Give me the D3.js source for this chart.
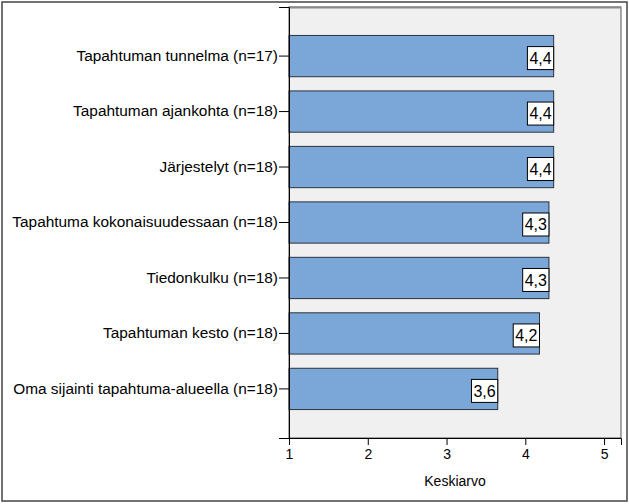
<!DOCTYPE html>
<html>
<head>
<meta charset="utf-8">
<script src="https://cdn.jsdelivr.net/npm/d3@7"></script>
<style>
  body { margin: 0; background: #fff; }
  svg text { font-family: "Liberation Sans", Arial, sans-serif; fill: #000; }
</style>
</head>
<body>
<div id="chart"></div>
<script>
// categories and mean values
const categories = [
  "Tapahtuman tunnelma (n=17)",
  "Tapahtuman ajankohta (n=18)",
  "Järjestelyt (n=18)",
  "Tapahtuma kokonaisuudessaan (n=18)",
  "Tiedonkulku (n=18)",
  "Tapahtuman kesto (n=18)",
  "Oma sijainti tapahtuma-alueella (n=18)"
];
const means = [4.36, 4.36, 4.36, 4.30, 4.30, 4.18, 3.65];
const valueLabels = ["4,4", "4,4", "4,4", "4,3", "4,3", "4,2", "3,6"];
const xTicks = [1, 2, 3, 4, 5];
const xTitle = "Keskiarvo";

const FONT = '"Liberation Sans", Arial, sans-serif';
const W = 629, H = 504;
const margin = { top: 7, right: 8, bottom: 66, left: 289 };
const width = W - margin.left - margin.right,
      height = H - margin.top - margin.bottom;

const svg = d3.select("#chart").append("svg")
  .attr("width", W).attr("height", H);

// outer frame
svg.append("rect")
  .attr("x", 2).attr("y", 2).attr("width", 625).attr("height", 499)
  .attr("fill", "none").attr("stroke", "#444").attr("stroke-width", 1.5);

const g = svg.append("g").attr("transform", `translate(${margin.left},${margin.top})`);

const x = d3.scaleLinear().domain([1, 5.215]).range([0, width]);
const y = d3.scaleBand().domain(categories).range([0, height])
  .paddingInner(0.256).paddingOuter(0.513);

// plot background
g.append("rect")
  .attr("width", width).attr("height", height)
  .attr("fill", "#f0f0f0").attr("stroke", "#555").attr("stroke-width", 1);
g.append("line")
  .attr("x1", 0).attr("x2", width).attr("y1", 0.5).attr("y2", 0.5)
  .attr("stroke", "#8a8a8a").attr("stroke-width", 2);

// bars
g.selectAll("rect.bar").data(means).join("rect")
  .attr("class", "bar")
  .attr("x", x(1))
  .attr("y", (d, i) => y(categories[i]))
  .attr("width", d => x(d) - x(1))
  .attr("height", y.bandwidth())
  .attr("fill", "#7aa7d7")
  .attr("stroke", "#2b3340").attr("stroke-width", 1);

// value labels in boxes
const lab = g.selectAll("g.vlab").data(means).join("g").attr("class", "vlab");
lab.each(function(d, i) {
  const el = d3.select(this);
  const cy = y(categories[i]) + y.bandwidth() / 2 + 2;
  const t = el.append("text")
    .attr("text-anchor", "end")
    .attr("x", x(d) - 2)
    .attr("y", cy)
    .attr("dy", "0.36em")
    .style("font-family", FONT)
    .style("font-size", "16px")
    .text(valueLabels[i]);
  const bw = t.node().getComputedTextLength() + 4;
  el.insert("rect", "text")
    .attr("x", x(d) - bw).attr("y", cy - 11.5)
    .attr("width", bw).attr("height", 23)
    .attr("fill", "#fff").attr("stroke", "#000").attr("stroke-width", 1);
});

// y axis
const yAxis = g.append("g").call(d3.axisLeft(y).tickSize(10).tickPadding(1));
yAxis.attr("font-family", FONT).attr("font-size", 15.4);
yAxis.select(".domain").attr("stroke", "#000");
yAxis.selectAll("text").style("font-family", FONT).style("font-size", "15.4px");

// x axis
const xAxis = g.append("g").attr("transform", `translate(0,${height})`)
  .call(d3.axisBottom(x).tickValues(xTicks).tickFormat(d3.format("d"))
    .tickSize(7).tickPadding(4));
xAxis.attr("font-family", FONT).attr("font-size", 14);
xAxis.select(".domain").attr("stroke", "#000");
xAxis.selectAll("text").style("font-family", FONT).style("font-size", "14px");

g.append("text")
  .attr("x", width / 2).attr("y", height + 48)
  .attr("text-anchor", "middle")
  .style("font-family", FONT)
  .style("font-size", "14px")
  .text(xTitle);
</script>
</body>
</html>
